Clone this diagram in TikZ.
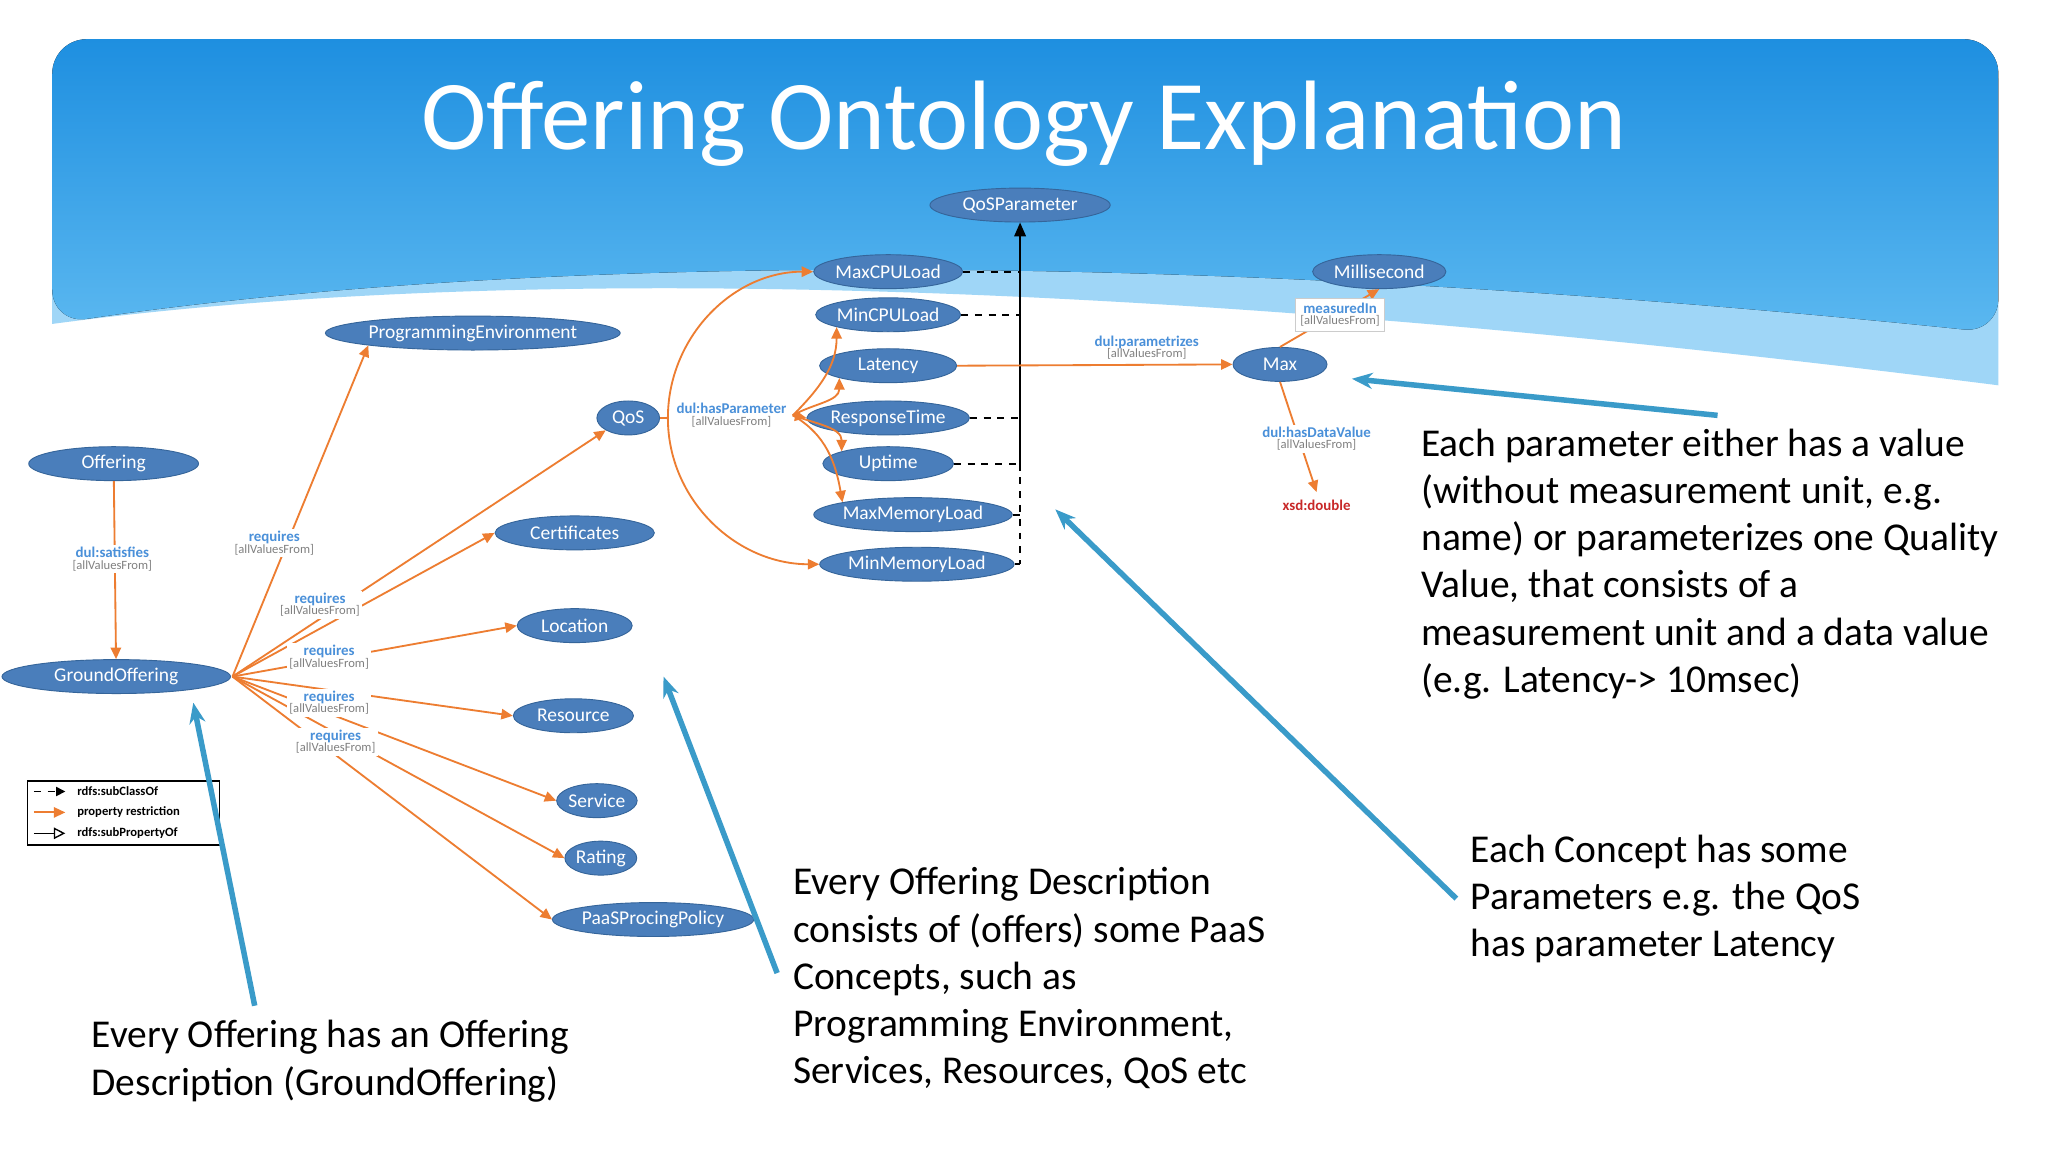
\documentclass[tikz,border=0pt]{standalone}
\usepackage{fontspec}
\setmainfont{Carlito}
\usetikzlibrary{shapes.geometric,arrows.meta}
\definecolor{nb}{HTML}{4A7EBB}
\definecolor{nbd}{HTML}{35659A}
\definecolor{org}{HTML}{ED7D31}
\definecolor{lb}{HTML}{4A90D9}
\definecolor{callout}{HTML}{3A9BC9}
\definecolor{skyA}{HTML}{1E8FE0}
\definecolor{skyB}{HTML}{5BB8F0}
\definecolor{skyC}{HTML}{9FD6F7}
\tikzset{
 ent/.style={ellipse,fill=nb,draw=nbd,text=white,inner sep=0pt,minimum height={26*0.02cm},minimum width={#1*0.02cm},font=\fontsize{8.5}{9}\selectfont},
 rel/.style={draw=org,line width=0.8pt,-{Triangle[length=5pt,width=4.5pt]}},
 lab/.style={fill=white,inner sep=1pt,align=center,font=\fontsize{6.5}{7}\selectfont,text=lb},
 sub/.style={dashed,line width=0.8pt},
 call/.style={draw=callout,line width=2.4pt,-{Stealth[length=9pt,width=7pt]}},
 body/.style={anchor=north west,align=left,font=\fontsize{17.2}{20.6}\selectfont}
}
\newcommand{\avf}{\\[-2pt]{\color{gray}\fontsize{5.5}{6}\selectfont[allValuesFrom]}}
\begin{document}
\begin{tikzpicture}[x=0.02cm,y=-0.02cm]
\useasboundingbox (0,0) rectangle (1568,882);
\fill[white] (0,0) rectangle (1568,882);
% sky
\fill[skyC] (40,248) .. controls (400,200) and (900,215) .. (1530,295) -- (1530,60) -- (40,60) -- cycle;
\fill[top color=skyA,bottom color=skyB,rounded corners=15] (40,248) .. controls (400,195) and (900,190) .. (1530,255) -- (1530,30) -- (40,30) -- cycle;
\node[text=white,font=\fontsize{43}{46}\selectfont] (title) at (784,95) {Offering Ontology Explanation};
% nodes
\node[ent=130] (off) at (87,355) {Offering};
\node[ent=175] (go) at (89,518) {GroundOffering};
\node[ent=190] (pe) at (362,255) {ProgrammingEnvironment};
\node[ent=48] (qos) at (481,320) {QoS};
\node[ent=122] (cert) at (440,408) {Certificates};
\node[ent=88] (loc) at (440,479) {Location};
\node[ent=92] (res) at (439,548) {Resource};
\node[ent=55] (ser) at (457,613) {Service};
\node[ent=55] (rat) at (460,657) {Rating};
\node[ent=135] (ppp) at (500,704) {PaaSProcingPolicy};
\node[ent=138] (qp) at (781,157) {QoSParameter};
\node[ent=105] (maxc) at (680,208) {MaxCPULoad};
\node[ent=105] (minc) at (680,241) {MinCPULoad};
\node[ent=105] (lat) at (680,280) {Latency};
\node[ent=105] (rt) at (680,320) {ResponseTime};
\node[ent=100] (up) at (680,355) {Uptime};
\node[ent=132] (maxm) at (699,394) {MaxMemoryLoad};
\node[ent=132] (minm) at (702,432) {MinMemoryLoad};
\node[ent=102] (ms) at (1056,208) {Millisecond};
\node[ent=72] (max) at (980,279) {Max};
\node[text={rgb,255:red,200;green,40;blue,40},font=\bfseries\fontsize{6.5}{7}\selectfont] (xsd) at (1008,387) {xsd:double};
% edges
\draw[rel] (off) -- (go);
\node[lab] at (86,428) {\textbf{dul:satisfies}\avf};
\coordinate (g) at (178,518);
\draw[rel] (g) -- (pe.south west);
\draw[rel] (g) -- (qos.south west);
\draw[rel] (g) -- (cert.west);
\draw[rel] (g) -- (loc.west);
\draw[rel] (g) -- (res.west);
\draw[rel] (g) -- (ser.west);
\draw[rel] (g) -- (rat.west);
\draw[rel] (g) -- (ppp.west);
\node[lab] at (210,416) {\textbf{requires}\avf};
\node[lab] at (245,463) {\textbf{requires}\avf};
\node[lab] at (252,503) {\textbf{requires}\avf};
\node[lab] at (252,538) {\textbf{requires}\avf};
\node[lab] at (257,568) {\textbf{requires}\avf};
% hasParameter
\coordinate (hp) at (607,318);
\draw[rel] (qos.east) -- ++(6,0) to[out=90,in=180] (maxc.west);
\draw[rel] (qos.east) -- ++(6,0) to[out=-90,in=180] (minm.west);
\draw[rel] (hp) to[out=45,in=-90] (minc.south west);
\draw[rel] (hp) to[out=30,in=-90] (lat.south west);
\draw[rel] (hp) -- (rt.west);
\draw[rel] (hp) to[out=-20,in=90] (up.north west);
\draw[rel] (hp) to[out=-30,in=100] (maxm.north west);
\node[lab] (hpl) at (560,318) {\textbf{dul:hasParameter}\avf};
% subclass
\coordinate (v1) at (781,355);
\coordinate (v2) at (781,432);
\draw[line width=0.8pt,-{Triangle[length=6pt,width=5pt]}] (v1) -- (qp.south);
\foreach \n/\y in {maxc/208,minc/241,rt/320,up/355,maxm/394,minm/432}
  \draw[sub] (\n.east) -- (781,\y);
\draw[sub] (v1) -- (v2);
% Max
\draw[rel] (lat.east) -- (max.west);
\node[lab,fill=none] at (878,266) {\textbf{dul:parametrizes}\avf};
\draw[rel] (max.north) -- (ms.south);
\node[lab,draw=gray!40,inner sep=2pt] at (1026,241) {\textbf{measuredIn}\avf};
\draw[rel] (max.south) -- (xsd.north);
\node[lab] at (1008,336) {\textbf{dul:hasDataValue}\avf};
% legend
\node[draw=black,line width=0.8pt,fill=white,minimum width={147*0.02cm},minimum height={49*0.02cm},inner sep=0pt] (leg) at (94.5,622.5) {};
\foreach \y/\t in {606/rdfs:subClassOf,622/property restriction,638/rdfs:subPropertyOf}
  \node[anchor=west,font=\bfseries\fontsize{5.5}{5.5}\selectfont] at (53,\y) {\t};
\draw[dashed,line width=0.6pt,-{Triangle[length=4pt,width=4pt]}] (26,606) -- (50,606);
\draw[draw=org,line width=0.8pt,-{Triangle[length=5pt,width=4.5pt]}] (26,622) -- (50,622);
\draw[line width=0.6pt,-{Triangle[open,length=5pt,width=5pt]}] (26,638) -- (50,638);
% callouts
\coordinate (c1s) at (195,770); \coordinate (c1e) at (148,538);
\coordinate (c2s) at (595,745); \coordinate (c2e) at (508,518);
\coordinate (c3s) at (1115,688); \coordinate (c3e) at (808,390);
\coordinate (c4s) at (1315,318); \coordinate (c4e) at (1035,290);
\draw[call] (c1s) -- (c1e);
\draw[call] (c2s) -- (c2e);
\draw[call] (c3s) -- (c3e);
\draw[call] (c4s) -- (c4e);
% texts
\node[body] (t1) at (1082,322) {Each parameter either has a value\\(without measurement unit, e.g.\\name) or parameterizes one Quality\\Value, that consists of a\\measurement unit and a data value\\(e.g. Latency-> 10msec)};
\node[body] (t2) at (1120,633) {Each Concept has some\\Parameters e.g. the QoS\\has parameter Latency};
\node[body] (t3) at (601,658) {Every Offering Description\\consists of (offers) some PaaS\\Concepts, such as\\Programming Environment,\\Services, Resources, QoS etc};
\node[body] (t4) at (64,775) {Every Offering has an Offering\\Description (GroundOffering)};
\end{tikzpicture}
\end{document}
